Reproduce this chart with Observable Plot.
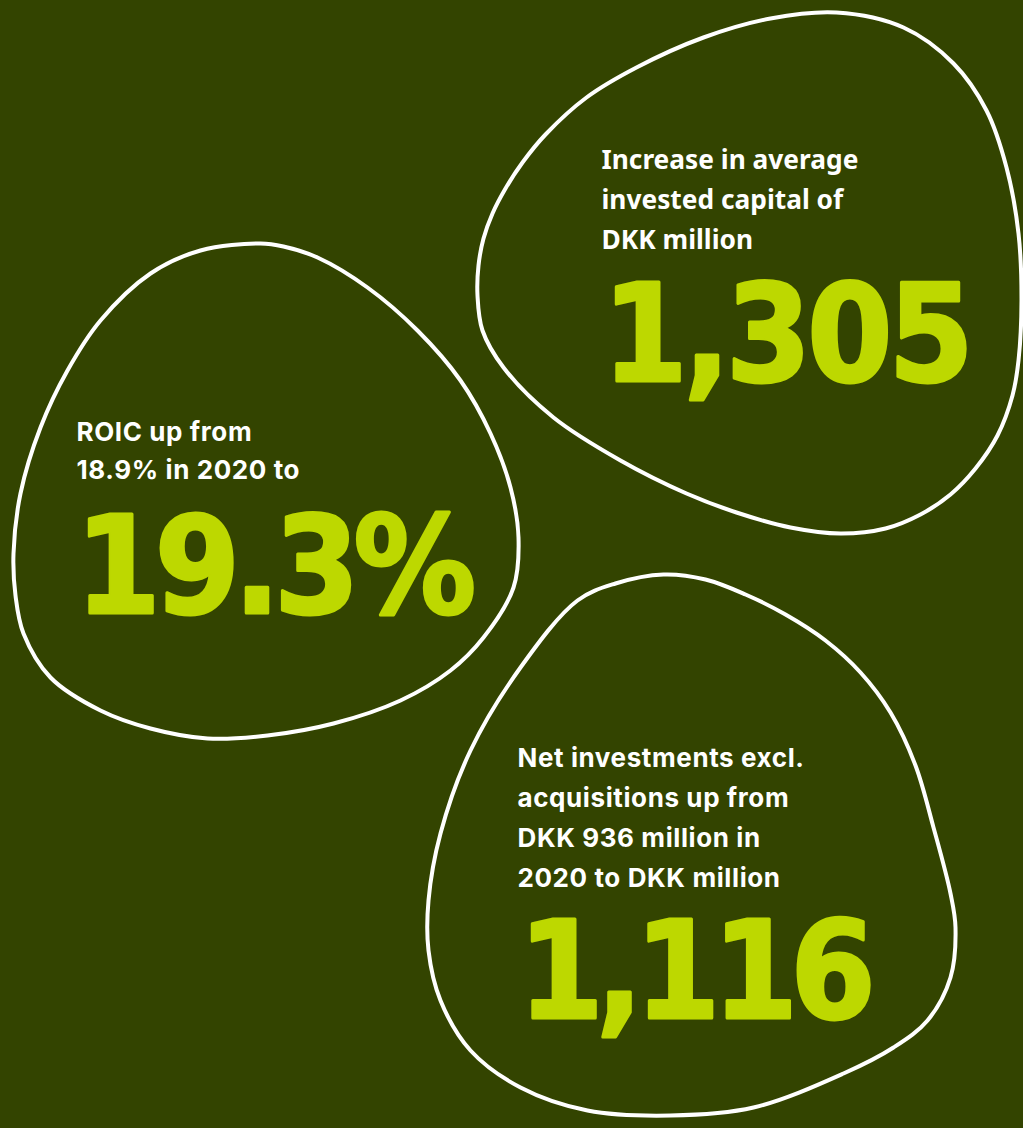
<!DOCTYPE html>
<html><head><meta charset="utf-8">
<script src="https://cdn.jsdelivr.net/npm/d3@7"></script>
<script src="https://cdn.jsdelivr.net/npm/@observablehq/plot@0.6"></script>
<style>html,body{margin:0;padding:0;background:#334400;} svg{display:block}</style>
</head><body><div id="chart"></div>
<script>
// ---- content ----
const captions = [
  "Increase in average\ninvested capital of\nDKK million",
  "ROIC up from\n18.9% in 2020 to",
  "Net investments excl.\nacquisitions up from\nDKK 936 million in\n2020 to DKK million"
];
const values = ["1,305", "19.3%", "1,116"];
const blobNames = ["capital", "roic", "investments"];

// ---- blob outlines (decorative shapes, pixel layout) ----
const blobCapitalX = [836,903,953,986,1006,1018,1021,1018,1012,997,975,950,920,885,840,790,736,686,620,553,503,482,477,478,483,492,505,522,545,586,636,703,770];
const blobCapitalY = [12,27,63,110,167,233,300,360,395,435,468,494,514,528,533,527,512,493,460,417,367,330,295,265,238,213,188,162,134,97,67,37,18];
const blobRoicX = [260,283,317,367,417,460,490,510,518,513,483,450,400,333,267,207,150,100,50,23,15,13,20,40,67,100,150,200];
const blobRoicY = [243,246,257,287,330,380,433,487,537,587,637,670,700,723,735,738,728,710,677,633,595,553,493,427,370,320,273,250];
const blobInvX = [663,705,745,785,825,860,890,915,933,950,955,950,927,893,843,753,670,587,520,470,440,428,428,440,470,520,577,615];
const blobInvY = [574,579,594,614,640,672,712,765,827,893,927,977,1020,1047,1073,1107,1115,1110,1087,1050,1000,950,900,833,750,667,600,583];

// ---- layout & style ----
const W = 1023, H = 1128;
const bg = "#334400", lime = "#bdd800";
const captionLayout = [
  {x: 601, y: 248, font: "Noto Sans", size: 26.3, lh: 40, spacing: 0},
  {x: 76, y: 478, font: "Inter", size: 26, lh: 38, spacing: 0.6},
  {x: 517, y: 886, font: "Inter", size: 26, lh: 40, spacing: 0.6}
];
const valueLayout = [
  {x: 602, y: 380, spacing: -4},
  {x: 75, y: 612, spacing: -6},
  {x: 518, y: 1017, spacing: -7.5}
];

const blobXs = [blobCapitalX, blobRoicX, blobInvX];
const blobYs = [blobCapitalY, blobRoicY, blobInvY];
const outline = blobNames.flatMap((name, b) => blobXs[b].map((x, i) => ({blob: name, x, y: blobYs[b][i]})));

const marks = [
  Plot.line(outline, {x: "x", y: "y", z: "blob", curve: "catmull-rom-closed", stroke: "white", strokeWidth: 4})
];
captions.forEach((t, i) => {
  const L = captionLayout[i];
  marks.push(Plot.text([t], {x: () => L.x, y: () => L.y, text: d => d, fill: "white",
    fontFamily: L.font, fontWeight: 700, fontSize: L.size, textAnchor: "start",
    lineAnchor: "bottom", lineHeight: L.lh / L.size, ariaDescription: "caption-" + i}));
});
values.forEach((v, i) => {
  const L = valueLayout[i];
  marks.push(Plot.text([v], {x: () => L.x, y: () => L.y, text: d => d, fill: lime,
    stroke: lime, strokeWidth: 3, strokeLinejoin: "round",
    fontFamily: "DejaVu Sans Condensed, DejaVu Sans", fontWeight: 700, fontSize: 136, textAnchor: "start",
    lineAnchor: "bottom", ariaDescription: "value-" + i}));
});

const svg = Plot.plot({
  width: W, height: H, margin: 0,
  x: {domain: [0, W], range: [0, W], axis: null},
  y: {domain: [0, H], range: [0, H], axis: null},
  style: {background: bg},
  marks
});
// letter spacing per text block
d3.select(svg).selectAll("g[aria-description]").each(function() {
  const [kind, idx] = this.getAttribute("aria-description").split("-");
  const L = kind === "value" ? valueLayout[+idx] : captionLayout[+idx];
  this.setAttribute("letter-spacing", L.spacing);
  if (kind === "value") this.setAttribute("font-stretch", "condensed");
});
document.getElementById("chart").appendChild(svg);
</script>
</body></html>
